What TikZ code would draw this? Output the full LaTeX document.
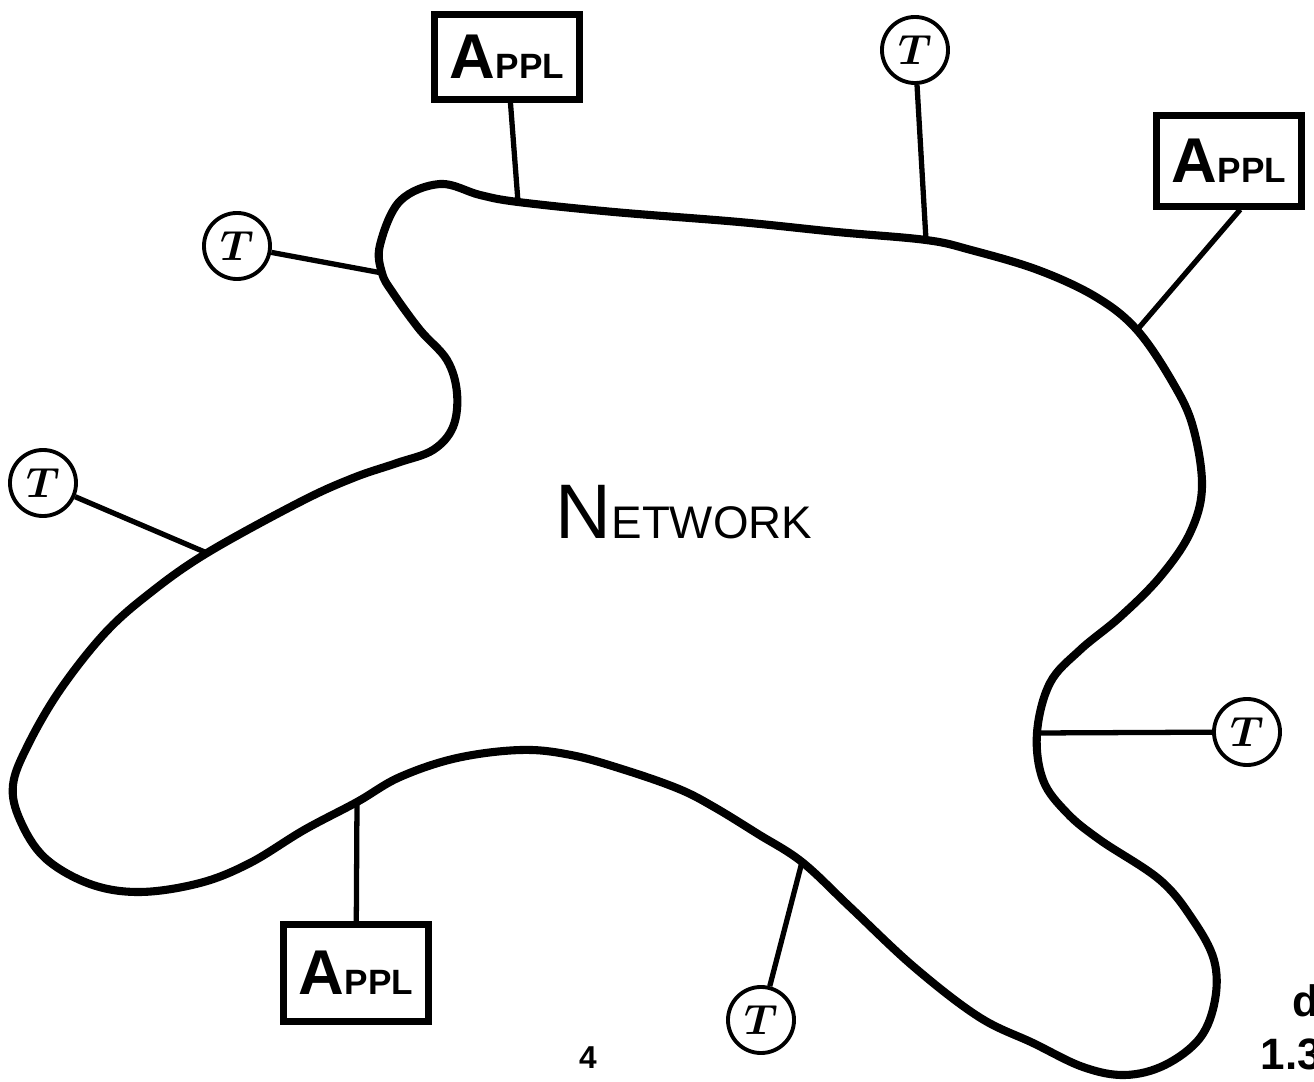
\documentclass[tikz,border=0pt]{standalone}
\usepackage{fontspec}
\setmainfont{Liberation Sans}
\usepackage{bm}
\usetikzlibrary{positioning}
\tikzset{
  blob/.style={line width=2.3pt,line join=round},
  link/.style={line width=1.5pt},
  applbox/.style={draw,line width=2pt,minimum width=1.45cm,minimum height=0.84cm,inner sep=0pt},
  term/.style={draw,circle,line width=1.1pt,minimum size=0.66cm,inner sep=0pt,font=\fontsize{12}{12}\selectfont},
  pagetext/.style={inner sep=0pt,font=\bfseries}
}
\newcommand{\appl}{{\bfseries\fontsize{18}{18}\selectfont A\fontsize{10}{10}\selectfont PPL}}

\begin{document}
\begin{tikzpicture}[x=0.01cm,y=-0.01cm]
  \useasboundingbox (0,0) rectangle (1314,1082);
  % taps on the network
  \coordinate (a1) at (518,202);
  \coordinate (t1) at (926,240);
  \coordinate (a2) at (1137,330);
  \coordinate (t2) at (1037,733);
  \coordinate (t3) at (802,862);
  \coordinate (a3) at (357,802);
  \coordinate (t4) at (207,553);
  \coordinate (t5) at (382,273);
  \draw[blob] plot[smooth cycle,tension=0.6] coordinates {
    (400,201) (440,184) (480,195) (a1) (614,212) (739,222) (837,232) (t1)
    (971,250) (1038,270) (1096,297) (a2) (1173,383) (1193,427) (1202,487)
    (1190,533) (1160,577) (1120,617) (1080,650) (1050,683) (t2) (1043,780)
    (1067,813) (1100,840) (1160,880) (1193,920) (1214,960) (1215,1000)
    (1200,1038) (1165,1065) (1125,1075) (1083,1067) (1033,1043) (979,1017)
    (914,967) (850,907) (t3) (758,834) (714,807) (679,789) (625,770)
    (571,755) (521,750) (457,758) (400,777) (a3) (304,830) (250,863)
    (200,883) (140,892) (90,884) (45,858) (20,820) (13,785) (28,745)
    (60,690) (105,633) (150,593) (t4) (300,502) (353,478) (397,463)
    (433,450) (453,427) (457,393) (447,360) (420,330) (393,293) (t5)
    (380,245)};
  \node[inner sep=0pt,anchor=base west] (net) at (555,538)
    {\fontsize{22}{22}\selectfont N\fontsize{13}{13}\selectfont ETWORK};

  \node[applbox] (appltop) at (507,57) {\appl};
  \node[applbox,minimum height=0.9cm] (applright) at (1229,161) {\appl};
  \node[applbox,minimum height=0.96cm] (applbot) at (356,973) {\appl};
  \node[term] (ttop) at (915,50) {$\bm{T}$};
  \node[term] (tupl) at (237,246) {$\bm{T}$};
  \node[term] (tleft) at (43,483) {$\bm{T}$};
  \node[term] (tright) at (1247,732) {$\bm{T}$};
  \node[term] (tbot) at (761,1020) {$\bm{T}$};

  \draw[link] (appltop) -- (a1);
  \draw[link] (ttop) -- (t1);
  \draw[link] (applright.-77) -- (a2);
  \draw[link] (tright) -- (t2);
  \draw[link] (tbot) -- (t3);
  \draw[link] (applbot) -- (a3);
  \draw[link] (tleft) -- (t4);
  \draw[link] (tupl) -- (t5);

  \node[pagetext,font=\bfseries\fontsize{9}{9}\selectfont] (page) at (588,1058) {4};
  \node[pagetext,anchor=base west,font=\bfseries\fontsize{12.5}{12.5}\selectfont] (fig) at (1260,1070) {1.3};
  \node[pagetext,anchor=base west,font=\bfseries\fontsize{12.5}{12.5}\selectfont] (figd) at (1292,1016) {d};
\end{tikzpicture}
\end{document}
